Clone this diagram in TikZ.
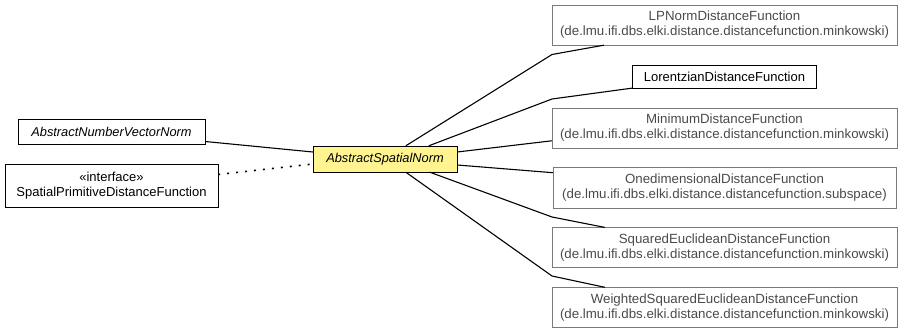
\documentclass[tikz,border=0pt]{standalone}
\usepackage{fontspec}
\setmainfont{Liberation Sans}
\usetikzlibrary{positioning}

\definecolor{umlyellow}{HTML}{FFF490}
\definecolor{extgray}{HTML}{4A4A4A}
\definecolor{extborder}{HTML}{7A7A7A}

\begin{document}
\begin{tikzpicture}[x=1pt,y=-1pt, node distance=19.5pt,
  every node/.style={draw,align=center,inner sep=1pt,font=\fontsize{13}{15}\selectfont},
  ext/.style={draw=extborder,text=extgray,minimum width=345pt,minimum height=40pt,
    font=\fontsize{13.3}{15}\selectfont},
  cls/.style={minimum height=23pt},
  abs/.style={font=\fontsize{12.8}{15}\selectfont\itshape,minimum height=25pt},
  ln/.style={line width=1.1pt},
  impl/.style={line width=1.6pt,dash pattern=on 2pt off 7pt}]
\useasboundingbox (0,0) rectangle (904,331);

% right column
\node[ext] (lp) at (724.5,25) {LPNormDistanceFunction\\(de.lmu.ifi.dbs.elki.distance.distancefunction.minkowski)};
\node[cls,minimum width=184pt,below=of lp] (lor) {LorentzianDistanceFunction};
\node[ext,below=of lor] (min) {MinimumDistanceFunction\\(de.lmu.ifi.dbs.elki.distance.distancefunction.minkowski)};
\node[ext,minimum width=343pt,below=of min] (one) {OnedimensionalDistanceFunction\\(de.lmu.ifi.dbs.elki.distance.distancefunction.subspace)};
\node[ext,below=of one] (sq) {SquaredEuclideanDistanceFunction\\(de.lmu.ifi.dbs.elki.distance.distancefunction.minkowski)};
\node[ext,below=of sq] (wsq) {WeightedSquaredEuclideanDistanceFunction\\(de.lmu.ifi.dbs.elki.distance.distancefunction.minkowski)};

% left side
\node[abs,minimum width=187pt] (anvn) at (111.5,131.5) {AbstractNumberVectorNorm};
\node[minimum width=213pt,minimum height=43pt] (spdf) at (111.5,185.5) {«interface»\\SpatialPrimitiveDistanceFunction};
\node[abs,fill=umlyellow,minimum width=144pt,minimum height=26pt] (asn) at (385,159) {AbstractSpatialNorm};

\draw[ln] ([yshift=-10pt]anvn.east) -- ([yshift=7pt]asn.west);
\draw[impl] ([yshift=11pt]spdf.east) -- ([yshift=-5pt]asn.west);

\draw[ln] ([xshift=93pt]asn.north west) -- (552,54.5) -- ([xshift=52pt]lp.south west);
\draw[ln] ([xshift=116pt]asn.north west) -- (552,99) -- (lor.south west);
\draw[ln] ([yshift=7pt]asn.east) -- ([yshift=-13pt]min.west);
\draw[ln] ([yshift=-6pt]asn.east) -- ([yshift=15pt]one.west);
\draw[ln] ([xshift=117pt]asn.south west) -- (552,217) -- ([xshift=53pt]sq.north west);
\draw[ln] ([xshift=93pt]asn.south west) -- (552,276) -- ([xshift=53pt]wsq.north west);
\end{tikzpicture}
\end{document}
